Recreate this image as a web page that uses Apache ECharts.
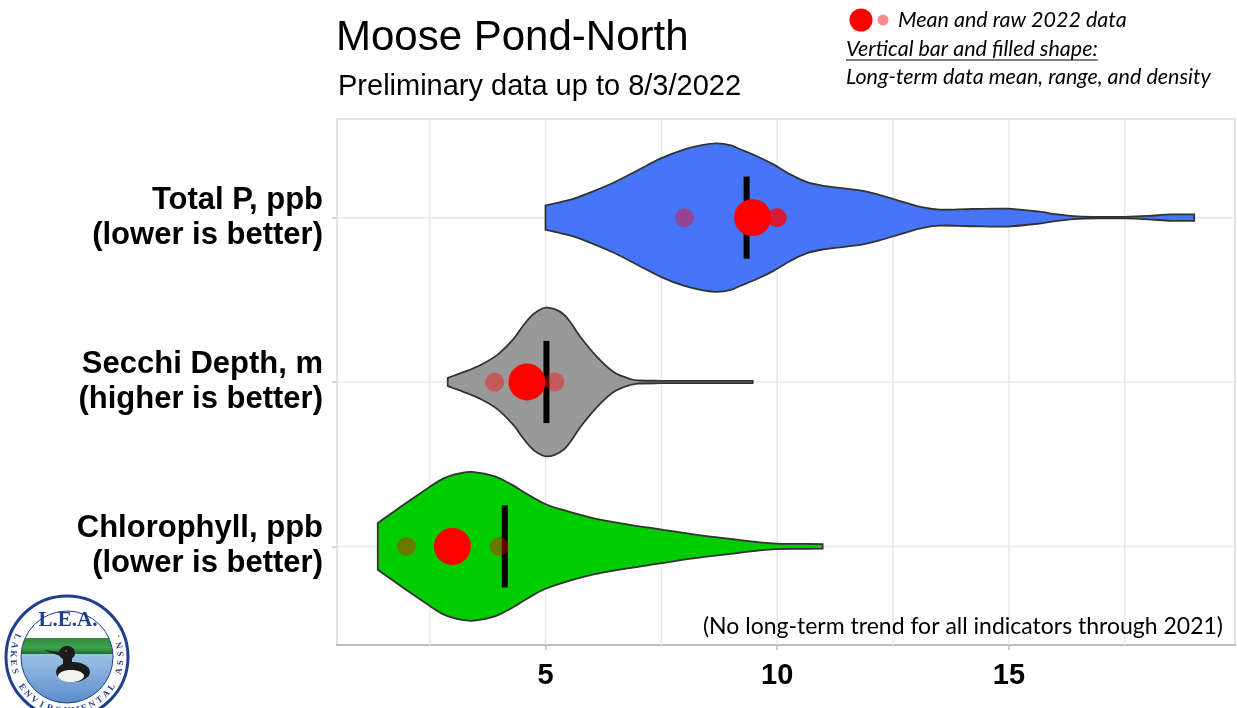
<!DOCTYPE html>
<html><head><meta charset="utf-8">
<script src="https://cdn.jsdelivr.net/npm/echarts@6/dist/echarts.min.js"></script>
<style>html,body{margin:0;padding:0;background:#fff}#c{width:1237px;height:708px}</style>
</head><body><div id="c"></div>
<script>
// ---------- data ----------
const categories = ['Total P, ppb\n(lower is better)', 'Secchi Depth, m\n(higher is better)', 'Chlorophyll, ppb\n(lower is better)'];
const categoryPos = [3, 2, 1];
const xTickValues = [5, 10, 15];
const xGridValues = [2.5, 5, 7.5, 10, 12.5, 15, 17.5];

// long-term density outlines (x value, relative density)
const tpDensX  = [5.0, 5.3, 5.6, 6.0, 6.5, 7.0, 7.5, 8.0, 8.4, 8.7, 9.0, 9.2, 9.56, 9.91, 10.27, 10.63, 11.0, 11.35, 11.85, 12.2, 12.64, 13.07, 13.5, 14.2, 14.94, 15.66, 16.0, 16.5, 17.0, 17.5, 18.0, 18.5, 19.0];
const tpDens   = [12.3, 15.5, 19, 26, 36, 48, 60, 69, 73.5, 75, 73, 69, 62, 54, 44, 36, 32, 30, 27, 23, 17, 11, 8, 8.7, 9, 6, 3.5, 1.2, 0.7, 0.8, 1.7, 3.2, 3.2];
const secDensX = [2.89, 3.0, 3.24, 3.6, 3.96, 4.31, 4.5, 4.68, 4.84, 5.0, 5.2, 5.4, 5.56, 5.75, 6.11, 6.47, 6.83, 7.04, 7.5, 8.0, 8.5, 9.0, 9.47];
const secDens  = [4, 6, 10, 17, 27, 43, 55, 65, 71, 74, 72.5, 67, 58, 45, 25, 10, 3, 1.5, 1.2, 1.1, 1.1, 1.1, 1.1];
const chlDensX = [1.38, 1.74, 2.1, 2.46, 2.81, 3.17, 3.46, 3.89, 4.25, 4.61, 4.96, 5.32, 6.04, 6.76, 7.47, 8.19, 8.9, 9.62, 9.98, 10.5, 10.98];
const chlDens  = [23.3, 35, 46.7, 58, 68, 73, 74, 70, 62, 52, 43, 37, 28, 22, 17, 12, 8, 4, 2.7, 2.5, 2.3];

const longTermMean = [9.34, 5.02, 4.12];
const mean2022 = [9.47, 4.6, 2.99];
const rawTP2022 = [8.0, 10.0, 10.0, 10.0];
const rawSecchi2022 = [3.9, 5.2];
const rawChl2022 = [2.0, 4.0];

// ---------- styling ----------
const fillColors = ['#4775F8', '#999999', '#00CC00'];
const densX = [tpDensX, secDensX, chlDensX];
const dens = [tpDens, secDens, chlDens];
const raw2022 = [rawTP2022, rawSecchi2022, rawChl2022];
const HALF = 0.452, BAR_HALF = 0.25;

function curve(pts, cmd) {
  const f = p => p[0].toFixed(2) + ',' + p[1].toFixed(2);
  let d = cmd + f(pts[0]);
  for (let i = 0; i < pts.length - 1; i++) {
    const p0 = pts[i - 1] || pts[i], p1 = pts[i], p2 = pts[i + 1], p3 = pts[i + 2] || pts[i + 1];
    const c1 = [p1[0] + (p2[0] - p0[0]) / 6, p1[1] + (p2[1] - p0[1]) / 6];
    const c2 = [p2[0] - (p3[0] - p1[0]) / 6, p2[1] - (p3[1] - p1[1]) / 6];
    d += ' C' + f(c1) + ' ' + f(c2) + ' ' + f(p2);
  }
  return d;
}

const chart = echarts.init(document.getElementById('c'));
const FONT = 'Liberation Sans, Arial, sans-serif';
const navy = '#1f3f8f';

// logo ring letters
const ringText = 'LAKES ENVIRONMENTAL ASSN.';
const logoCx = 67, logoCy = 657, ringR = 54;
const ringEls = [];
for (let k = 0; k < ringText.length; k++) {
  const a = (-112 + 224 * k / (ringText.length - 1)) * Math.PI / 180;
  ringEls.push({type: 'text', x: logoCx + ringR * Math.sin(a), y: logoCy + ringR * Math.cos(a), rotation: a,
    style: {text: ringText[k], fontSize: 9, fontWeight: 'bold', fontFamily: 'Liberation Serif', fill: navy, align: 'center', verticalAlign: 'middle'}});
}

const LEG = 21.5;
const ctx = document.createElement('canvas').getContext('2d');
ctx.font = 'italic ' + LEG + 'px Lato';
const ulW = ctx.measureText('Vertical bar and filled shape:').width;

chart.setOption({
  animation: false,
  grid: {left: 337, right: 2, top: 119, bottom: 63, show: true, borderColor: '#e4e4e4', borderWidth: 2, outerBoundsMode: 'none'},
  xAxis: {
    type: 'value', min: 0.5, max: 19.88,
    axisLine: {show: true, onZero: false, lineStyle: {color: '#bdbdbd', width: 2}},
    axisTick: {show: true, customValues: xTickValues, length: 5, lineStyle: {color: '#bdbdbd', width: 1.5}},
    axisLabel: {customValues: xTickValues, fontSize: 29, fontWeight: 'bold', fontFamily: FONT, color: '#000', margin: 16},
    splitLine: {show: false}
  },
  yAxis: {
    type: 'value', min: 0.4, max: 3.6,
    axisLine: {show: false},
    axisTick: {show: true, customValues: categoryPos, length: 5, lineStyle: {color: '#c8c8c8', width: 1.5}},
    axisLabel: {customValues: categoryPos, formatter: v => categories[categoryPos.indexOf(v)],
      fontSize: 31, fontWeight: 'bold', fontFamily: FONT, color: '#000', lineHeight: 35, margin: 14, align: 'right'},
    splitLine: {show: false}
  },
  graphic: [
    {type: 'text', x: 336, y: 38, style: {text: 'Moose Pond-North', fontSize: 42, fontFamily: FONT, fill: '#000', verticalAlign: 'middle'}},
    {type: 'text', x: 338, y: 87, style: {text: 'Preliminary data up to 8/3/2022', fontSize: 29, fontFamily: FONT, fill: '#000', verticalAlign: 'middle'}},
    {type: 'circle', shape: {cx: 861, cy: 20, r: 11.5}, style: {fill: '#FF0000'}},
    {type: 'circle', shape: {cx: 883, cy: 20, r: 5.5}, style: {fill: 'rgba(255,0,0,0.45)'}},
    {type: 'text', x: 898, y: 20, style: {text: 'Mean and raw 2022 data', fontSize: LEG, fontStyle: 'italic', fontFamily: 'Lato', fill: '#000', verticalAlign: 'middle'}},
    {type: 'text', x: 846, y: 49, style: {text: 'Vertical bar and filled shape:', fontSize: LEG, fontStyle: 'italic', fontFamily: 'Lato', fill: '#000', verticalAlign: 'middle'}},
    {type: 'line', shape: {x1: 846, y1: 60, x2: 846 + ulW, y2: 60}, style: {stroke: '#000', lineWidth: 1.2}},
    {type: 'text', x: 846, y: 77, style: {text: 'Long-term data mean, range, and density', fontSize: LEG, fontStyle: 'italic', fontFamily: 'Lato', fill: '#000', verticalAlign: 'middle'}},
    {type: 'text', x: 1223, y: 627, z: 10, style: {text: '(No long-term trend for all indicators through 2021)', fontSize: 23, fontFamily: 'Lato', fill: '#000', align: 'right', verticalAlign: 'middle'}},
    // logo
    {type: 'circle', shape: {cx: logoCx, cy: logoCy, r: 61}, style: {fill: '#fff', stroke: navy, lineWidth: 3}},
    {type: 'circle', shape: {cx: logoCx, cy: logoCy, r: 46}, style: {
      fill: {type: 'linear', x: 0, y: 0, x2: 0, y2: 1, colorStops: [
        {offset: 0, color: '#ffffff'}, {offset: 0.3, color: '#ffffff'}, {offset: 0.3, color: '#2f8a3c'},
        {offset: 0.4, color: '#3fa34d'}, {offset: 0.47, color: '#1f6b2f'}, {offset: 0.47, color: '#9cc3e6'}, {offset: 1, color: '#5b8dcc'}]},
      stroke: navy, lineWidth: 1}},
    {type: 'text', x: logoCx + 1, y: 621, style: {text: 'L.E.A.', fontSize: 21, fontWeight: 'bold', fontFamily: 'Liberation Serif', fill: navy, align: 'center', verticalAlign: 'middle'}},
    {type: 'polygon', shape: {points: [[60, 652], [44, 650], [60, 656]]}, style: {fill: '#222'}},
    {type: 'ellipse', shape: {cx: 73, cy: 672, rx: 17, ry: 10}, style: {fill: '#1b1b1b'}},
    {type: 'ellipse', shape: {cx: 71, cy: 676, rx: 13, ry: 6}, style: {fill: '#f2f2f2'}},
    {type: 'rect', shape: {x: 63, y: 652, width: 9, height: 18}, style: {fill: '#1b1b1b'}},
    {type: 'ellipse', shape: {cx: 67, cy: 653, rx: 8, ry: 7}, style: {fill: '#1b1b1b'}},
    {type: 'circle', shape: {cx: 66, cy: 651, r: 1}, style: {fill: '#d33'}},
    ...ringEls
  ],
  series: [
    {type: 'custom', name: 'vgrid', z: 1, silent: true, data: xGridValues.map(v => [v, 2]),
      renderItem: (p, api) => {
        const a = api.coord([api.value(0), 0.4]), b = api.coord([api.value(0), 3.6]);
        return {type: 'line', shape: {x1: a[0], y1: a[1], x2: b[0], y2: b[1]}, style: {stroke: '#e8e8e8', lineWidth: 1.5}};
      }},
    {type: 'custom', name: 'hgrid', z: 1, silent: true, data: categoryPos.map(v => [5, v]),
      renderItem: (p, api) => {
        const a = api.coord([0.5, api.value(1)]), b = api.coord([19.88, api.value(1)]);
        return {type: 'line', shape: {x1: a[0], y1: a[1], x2: b[0], y2: b[1]}, style: {stroke: '#e8e8e8', lineWidth: 1.5}};
      }},
    {type: 'custom', name: 'violin', z: 2, data: categoryPos.map((c, i) => [densX[i][0], c]),
      renderItem: (params, api) => {
        const i = params.dataIndex, xs = densX[i], ds = dens[i], yc = categoryPos[i];
        const m = Math.max(...ds);
        const up = xs.map((x, k) => api.coord([x, yc + ds[k] / m * HALF]));
        const lo = xs.map((x, k) => api.coord([x, yc - ds[k] / m * HALF])).reverse();
        const d = curve(up, 'M') + ' ' + curve(lo, 'L') + ' Z';
        return {type: 'path', shape: {pathData: d}, style: {fill: fillColors[i], stroke: '#333333', lineWidth: 1.8}};
      }},
    {type: 'custom', name: 'longTermMean', z: 3, data: longTermMean.map((v, i) => [v, categoryPos[i]]),
      renderItem: (params, api) => {
        const t = api.coord([api.value(0), api.value(1) + BAR_HALF]);
        const b = api.coord([api.value(0), api.value(1) - BAR_HALF]);
        return {type: 'rect', shape: {x: t[0] - 3, y: t[1], width: 6, height: b[1] - t[1]}, style: {fill: '#000'}};
      }},
    {type: 'scatter', name: 'raw2022', z: 4, symbolSize: 19, itemStyle: {color: 'rgba(255,0,0,0.4)', opacity: 1},
      data: raw2022.flatMap((arr, i) => arr.map(v => [v, categoryPos[i]]))},
    {type: 'scatter', name: 'mean2022', z: 5, symbolSize: 37, itemStyle: {color: '#FF0000', opacity: 1},
      data: mean2022.map((v, i) => [v, categoryPos[i]])}
  ]
});
</script></body></html>
